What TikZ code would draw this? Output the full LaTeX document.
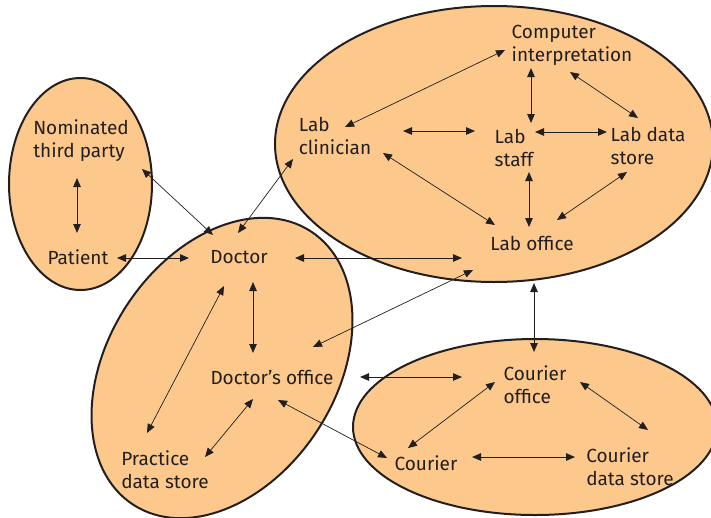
\documentclass[tikz,border=0pt]{standalone}
\usepackage{fontspec}
\setmainfont{Fira Sans}
\usetikzlibrary{arrows.meta,calc}
\definecolor{blobfill}{RGB}{252,200,140}
\definecolor{ink}{RGB}{35,31,32}
\tikzset{
  blob/.style={fill=blobfill,draw=ink,line width=2pt},
  lbl/.style={text=ink,inner sep=0pt,align=left,font=\fontsize{19}{23}\selectfont},
  link/.style={draw=ink,line width=1pt,{Triangle[length=9pt,width=7.5pt]}-{Triangle[length=9pt,width=7.5pt]}},
  thinlink/.style={link,line width=0.7pt}
}
\begin{document}
\begin{tikzpicture}[x=1pt,y=-1pt]
\useasboundingbox (0,0) rectangle (711,517);

% groups
\draw[blob] (494,144) ellipse [x radius=219, y radius=138];
\draw[blob] (535,427) ellipse [x radius=182, y radius=88];
\draw[blob] (80.5,184) ellipse [x radius=71.5, y radius=106];
\draw[blob, rotate around={57:(222,368)}] (222,368) ellipse [x radius=163, y radius=114];

% actors
\node[lbl] (nom)    at (81,141)  {Nominated\\third party};
\node[lbl] (pat)    at (78,257)  {Patient};
\node[lbl] (doc)    at (239,257) {Doctor};
\node[lbl] (docoff) at (272,377) {Doctor’s office};
\node[lbl] (prac)   at (165,470) {Practice\\data store};
\node[lbl] (labc)   at (335,136) {Lab\\clinician};
\node[lbl] (comp)   at (572,45)  {Computer\\interpretation};
\node[lbl] (staff)  at (514,148) {Lab\\staff};
\node[lbl] (lds)    at (648,146) {Lab data\\store};
\node[lbl] (laboff) at (532,243) {Lab office};
\node[lbl] (coff)   at (535,385) {Courier\\office};
\node[lbl] (cour)   at (426,463) {Courier};
\node[lbl] (cds)    at (630,467) {Courier\\data store};

% links
\draw[link] ($(nom)+(-4,37)$) -- ($(pat)+(-1,-24)$);
\draw[thinlink] ($(nom)+(61,28)$) -- ($(doc)+(-26,-22)$);
\draw[link] ($(pat)+(39,1)$) -- ($(doc)+(-50,1)$);
\draw[thinlink] ($(doc)+(-1,-24)$) -- ($(labc)+(-42,23)$);
\draw[link] ($(doc)+(56,1)$) -- ($(laboff)+(-70,15)$);
\draw[link] ($(doc)+(14,25)$) -- ($(docoff)+(-19,-24)$);
\draw[thinlink] ($(doc)+(-15,29)$) -- ($(prac)+(-18,-37)$);
\draw[thinlink] ($(laboff)+(-59,27)$) -- ($(docoff)+(41,-30)$);
\draw[thinlink] ($(docoff)+(-19,22)$) -- ($(prac)+(40,-13)$);
\draw[thinlink] ($(docoff)+(6,23)$) -- ($(cour)+(-39,-5)$);
\draw[link] ($(docoff)+(88,0)$) -- ($(coff)+(-73,-8)$);
\draw[link] ($(laboff)+(2,40)$) -- ($(coff)+(-1,-33)$);
\draw[thinlink] ($(coff)+(-40,-3)$) -- ($(cour)+(-18,-15)$);
\draw[thinlink] ($(coff)+(45,-3)$) -- ($(cds)+(18,-37)$);
\draw[link] ($(cour)+(46,-6)$) -- ($(cds)+(-55,-10)$);
\draw[thinlink] ($(labc)+(10,-9)$) -- ($(comp)+(-67,5)$);
\draw[link] ($(labc)+(68,-5)$) -- ($(staff)+(-39,-17)$);
\draw[thinlink] ($(labc)+(48,17)$) -- ($(laboff)+(-37,-18)$);
\draw[link] ($(comp)+(-41,23)$) -- ($(staff)+(17,-25)$);
\draw[thinlink] ($(comp)+(-2,27)$) -- ($(lds)+(-10,-28)$);
\draw[link] ($(staff)+(21,-16)$) -- ($(lds)+(-41,-14)$);
\draw[link] ($(staff)+(15,24)$) -- ($(laboff)+(-3,-16)$);
\draw[thinlink] ($(lds)+(-21,26)$) -- ($(laboff)+(25,-23)$);
\end{tikzpicture}
\end{document}
